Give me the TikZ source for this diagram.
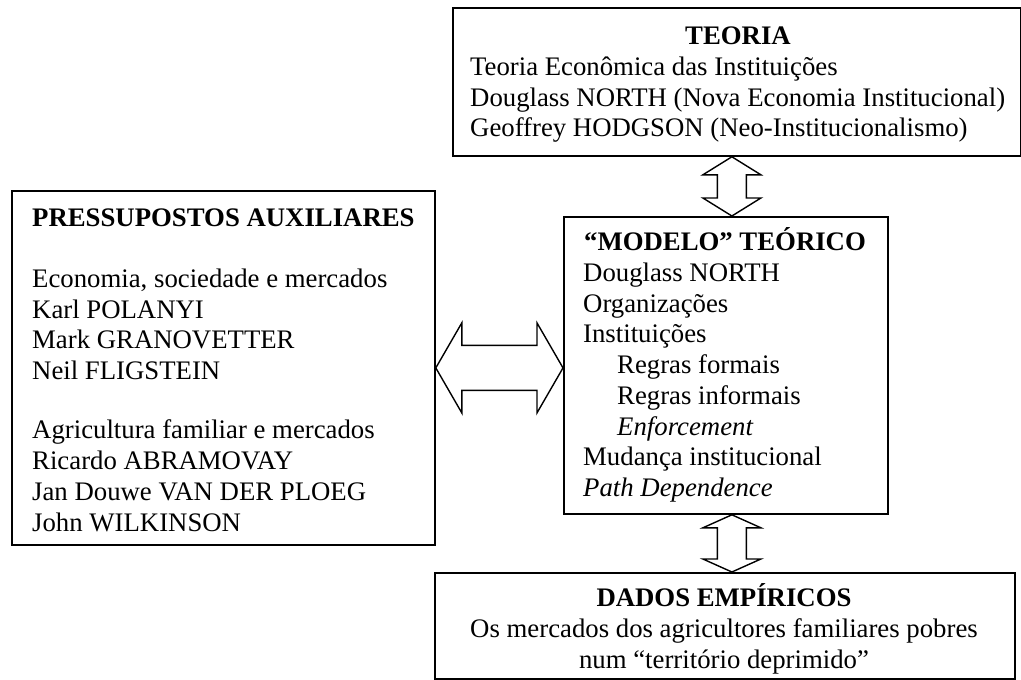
\documentclass[tikz,border=0pt]{standalone}
\usepackage{fontspec}
\setmainfont{Liberation Serif}
\usetikzlibrary{calc}
\begin{document}
\begin{tikzpicture}[x=1pt,y=-1pt,
  box/.style={draw, line width=1.8pt, rectangle, inner sep=0pt, anchor=north west},
  txt/.style={anchor=base west, inner sep=0pt, font=\fontsize{26.76}{30.75}\selectfont},
  ttl/.style={anchor=base, inner sep=0pt, font=\fontsize{26.76}{30.75}\selectfont\bfseries},
  ctr/.style={anchor=base, inner sep=0pt, font=\fontsize{26.76}{30.75}\selectfont},
  bigarrow/.style={draw, line width=1.4pt, line join=miter, fill=white}]
\useasboundingbox (0,0) rectangle (1021,680);

% frames
\node[box, minimum width=568pt, minimum height=148pt] (teoria) at (452,7) {};
\node[box, minimum width=423pt, minimum height=354pt] (press) at (11,190) {};
\node[box, minimum width=324pt, minimum height=297pt] (modelo) at (563,216) {};
\node[box, minimum width=580pt, minimum height=106pt] (dados) at (434,572) {};

% theory
\node[ttl] (t0) at (738,44) {TEORIA};
\node[txt] (t1) at (470,75) {Teoria Econômica das Instituições};
\node[txt] (t2) at (470,106) {Douglass NORTH (Nova Economia Institucional)};
\node[txt] (t3) at (470,136) {Geoffrey HODGSON (Neo-Institucionalismo)};

% auxiliary assumptions
\node[txt, font=\fontsize{26.76}{30.75}\selectfont\bfseries] (p0) at (32,226) {PRESSUPOSTOS AUXILIARES};
\node[txt] (p1) at (32,287) {Economia, sociedade e mercados};
\node[txt] (p2) at (32,318) {Karl POLANYI};
\node[txt] (p3) at (32,348) {Mark GRANOVETTER};
\node[txt] (p4) at (32,379) {Neil FLIGSTEIN};
\node[txt] (p5) at (32,438) {Agricultura familiar e mercados};
\node[txt] (p6) at (32,469) {Ricardo ABRAMOVAY};
\node[txt] (p7) at (32,500) {Jan Douwe VAN DER PLOEG};
\node[txt] (p8) at (32,531) {John WILKINSON};

% theoretical model
\node[ttl] (m0) at (725,250) {“MODELO” TEÓRICO};
\node[txt] (m1) at (583,281) {Douglass NORTH};
\node[txt] (m2) at (583,312) {Organizações};
\node[txt] (m3) at (583,342) {Instituições};
\node[txt] (m4) at (617,373) {Regras formais};
\node[txt] (m5) at (617,404) {Regras informais};
\node[txt] (m6) at (617,435) {\itshape Enforcement};
\node[txt] (m7) at (583,465) {Mudança institucional};
\node[txt] (m8) at (583,496) {\itshape Path Dependence};

% empirical data
\node[ttl] (d0) at (724,606) {DADOS EMPÍRICOS};
\node[ctr] (d1) at (724,637) {Os mercados dos agricultores familiares pobres};
\node[ctr] (d2) at (724,668) {num “território deprimido”};

% two-headed block arrows
\coordinate (hl) at (press.east);
\coordinate (hr) at (modelo.west |- press.east);
\draw[bigarrow] (hl) -- ++(26,-45) -- ++(0,22.5) -- ($(hr)+(-26,-22.5)$) -- ++(0,-22.5)
  -- (hr) -- ++(-26,45) -- ++(0,-22.5) -- ($(hl)+(26,22.5)$) -- ++(0,22.5) -- cycle;

\coordinate (tb) at ($(modelo.north)+(6,0)$);
\coordinate (ta) at (teoria.south -| tb);
\draw[bigarrow] (ta) -- ++(-29,18) -- ++(14.5,0) -- ($(tb)+(-14.5,-18)$) -- ++(-14.5,0)
  -- (tb) -- ++(29,-18) -- ++(-14.5,0) -- ($(ta)+(14.5,18)$) -- ++(14.5,0) -- cycle;

\coordinate (ba) at ($(modelo.south)+(6,0)$);
\coordinate (bb) at (dados.north -| ba);
\draw[bigarrow] (ba) -- ++(-29,13) -- ++(14.5,0) -- ($(bb)+(-14.5,-13)$) -- ++(-14.5,0)
  -- (bb) -- ++(29,-13) -- ++(-14.5,0) -- ($(ba)+(14.5,13)$) -- ++(14.5,0) -- cycle;
\end{tikzpicture}
\end{document}
